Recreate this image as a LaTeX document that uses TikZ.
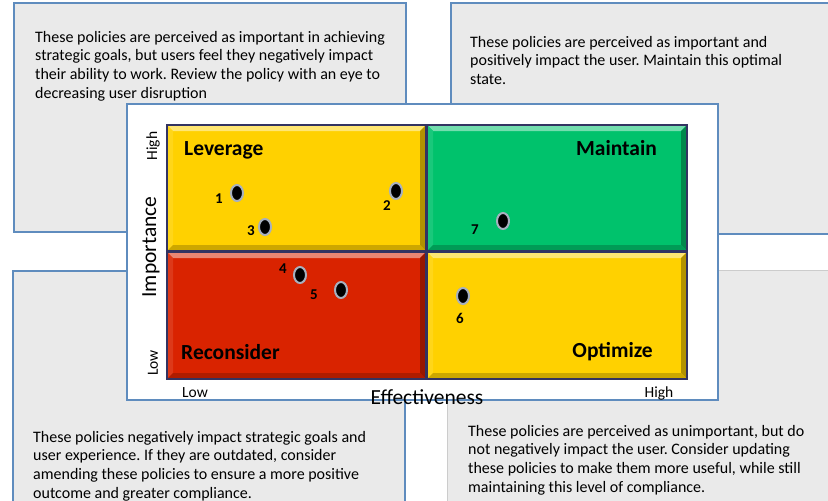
\documentclass[tikz,border=0pt]{standalone}
\usepackage{fontspec}
\setmainfont{Carlito}
\usetikzlibrary{shapes.geometric}
\definecolor{boxgray}{HTML}{EAEAEA}
\definecolor{boxblue}{HTML}{5F8CBE}
\definecolor{quadyellow}{HTML}{FFD100}
\definecolor{quadgreen}{HTML}{00C26C}
\definecolor{quadred}{HTML}{D92300}
\definecolor{dotring}{HTML}{A7B0BF}
\frenchspacing
\tikzset{
	notebox/.style={fill=boxgray, draw=boxblue, line width=2.5pt},
	notetext/.style={anchor=north west, align=left, inner sep=0pt,
		font=\fontsize{16}{18.6}\selectfont},
	quadlbl/.style={font=\fontsize{21.5}{23}\selectfont\bfseries, inner sep=0pt},
	dot/.style={ellipse, fill=black, draw=dotring, line width=2pt, minimum width=12pt, minimum height=16pt, inner sep=0pt},
	num/.style={font=\fontsize{15}{16}\selectfont\bfseries, inner sep=0pt},
	axis/.style={font=\fontsize{21.5}{23}\selectfont, inner sep=0pt},
	tick/.style={font=\fontsize{15.5}{17}\selectfont, inner sep=0pt}
}
\begin{document}
\begin{tikzpicture}[x=1pt, y=-1pt]
	\useasboundingbox (0,0) rectangle (828,501);
	\clip (0,0) rectangle (828,501);
	% note boxes behind the matrix
	\draw[notebox] (14,3) rectangle (406,232);
	\draw[notebox] (451,3) rectangle (840,234);
	\draw[notebox] (13,271) rectangle (405,520);
	\draw[fill=boxgray, draw=black!20, line width=1pt] (447,270) rectangle (840,520);
	\node[notetext] (tl) at (35,31) {These policies are perceived as important in achieving\\ strategic goals, but users feel they negatively impact\\ their ability to work. Review the policy with an eye to\\ decreasing user disruption};
	\node[notetext] (tr) at (470,36) {These policies are perceived as important and\\ positively impact the user. Maintain this optimal\\ state.};
	\node[notetext] (bl) at (33,431) {These policies negatively impact strategic goals and\\ user experience. If they are outdated, consider\\ amending these policies to ensure a more positive\\ outcome and greater compliance.};
	\node[notetext] (br) at (468,425) {These policies are perceived as unimportant, but do\\ not negatively impact the user. Consider updating\\ these policies to make them more useful, while still\\ maintaining this level of compliance.};
	% the matrix
	\draw[fill=white, draw=boxblue, line width=2.5pt] (127,104) rectangle (718,400);
	\foreach \xa/\ya/\xb/\yb/\col in {167/125/426/251/quadyellow, 427/125/687/251/quadgreen,
		167/252/426/379/quadred, 427/252/687/379/quadyellow} {
		\fill[\col] (\xa,\ya) rectangle (\xb,\yb);
		\fill[\col!55!white] (\xa,\ya) -- (\xb,\ya) -- (\xb-6,\ya+6) -- (\xa+6,\ya+6) -- cycle;
		\fill[\col!90!white] (\xa,\ya) -- (\xa+6,\ya+6) -- (\xa+6,\yb-6) -- (\xa,\yb) -- cycle;
		\fill[\col!70!black] (\xb,\ya) -- (\xb,\yb) -- (\xb-6,\yb-6) -- (\xb-6,\ya+6) -- cycle;
		\fill[\col!80!black] (\xa,\yb) -- (\xb,\yb) -- (\xb-6,\yb-6) -- (\xa+6,\yb-6) -- cycle;
		\draw[black!70!blue!60!gray, line width=1.5pt] (\xa,\ya) rectangle (\xb,\yb);
	}
	\node[quadlbl, anchor=west] (lev) at (184,150) {Leverage};
	\node[quadlbl, anchor=east] (mnt) at (657,148) {Maintain};
	\node[quadlbl, anchor=west] (rec) at (181,352) {Reconsider};
	\node[quadlbl, anchor=east] (opt) at (653,352) {Optimize};
	% policies
	\node[dot] (p1) at (237,193) {};
	\node[dot] (p2) at (396,191) {};
	\node[dot] (p3) at (265,227) {};
	\node[dot] (p4) at (300,275) {};
	\node[dot] (p5) at (341,290) {};
	\node[dot] (p6) at (463,296) {};
	\node[dot] (p7) at (503,221) {};
	\node[num] (n1) at (219,199) {1};
	\node[num] (n2) at (387,206) {2};
	\node[num] (n3) at (251,231) {3};
	\node[num] (n4) at (283,269) {4};
	\node[num] (n5) at (314,295) {5};
	\node[num] (n6) at (460,318) {6};
	\node[num] (n7) at (475,230) {7};
	% axes
	\node[tick, rotate=90] (yhi) at (153,146) {High};
	\node[axis, rotate=90] (ylab) at (151,247) {Importance};
	\node[tick, rotate=90] (ylo) at (153,363) {Low};
	\node[tick] (xlo) at (195,393) {Low};
	\node[axis] (xlab) at (427,397) {Effectiveness};
	\node[tick] (xhi) at (659,393) {High};
\end{tikzpicture}
\end{document}
